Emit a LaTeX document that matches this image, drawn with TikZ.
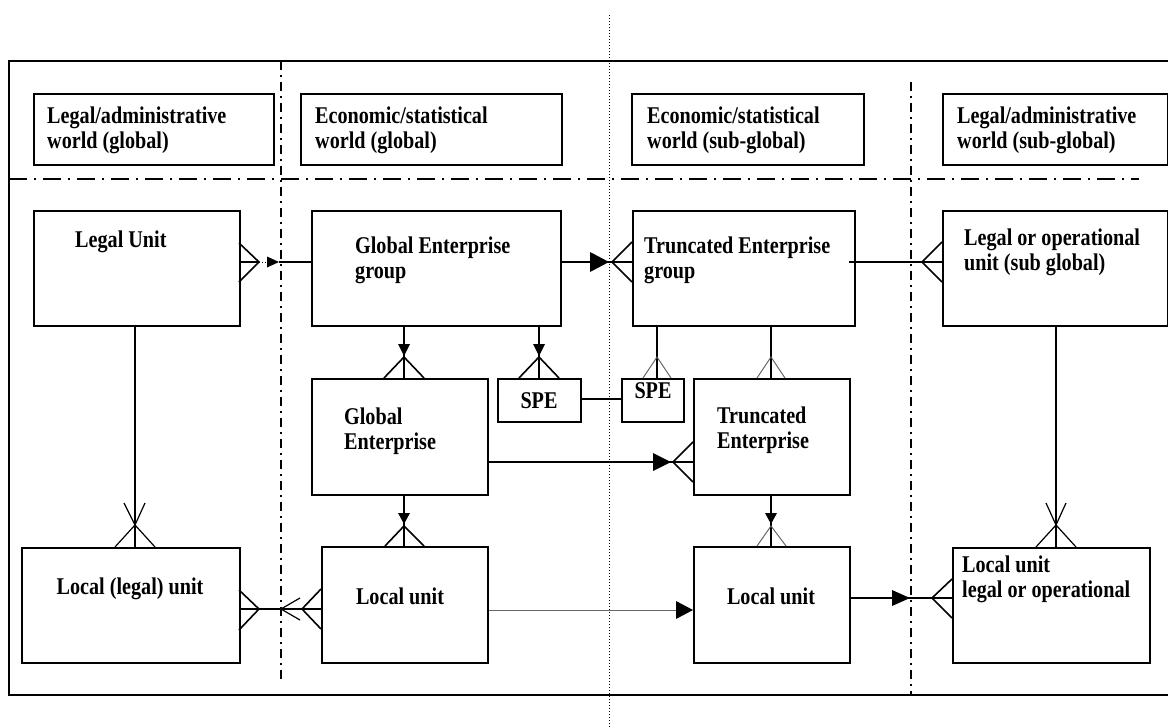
\documentclass[tikz,border=0pt]{standalone}
\usepackage{fontspec}
\setmainfont{Liberation Serif}[FakeStretch=0.84]
\begin{document}
\begin{tikzpicture}[x=1pt,y=-1pt,
  box/.style={draw, line width=1.6pt, inner sep=0pt, anchor=north west},
  txt/.style={inner sep=0pt, anchor=base west, align=left, font=\bfseries\fontsize{24}{25}\selectfont},
  ctxt/.style={inner sep=0pt, anchor=base, font=\bfseries\fontsize{24}{25}\selectfont},
  con/.style={line width=1.6pt, line join=miter},
  thinc/.style={line width=0.9pt, black!65},
  head/.style={fill=black, draw=none},
  hdash/.style={line width=1.3pt, dash pattern=on 18pt off 7pt on 2pt off 7pt},
  vdash/.style={line width=1.3pt, dash pattern=on 9pt off 5pt on 2pt off 5pt},
  dots/.style={line width=1pt, dash pattern=on 1pt off 2pt}]
\useasboundingbox (0,0) rectangle (1168,728);
% frame and dividers
\draw[line width=1.8pt] (9,61) rectangle (1185,695);
\draw[hdash] (9,179) -- (1139,179);
\draw[vdash] (281,61) -- (281,682);
\draw[vdash] (911,82) -- (911,694);
\draw[dots] (609,15) -- (609,728);
% header boxes
\node[box, minimum width=240pt, minimum height=71pt] (H1) at (33,93) {};
\node[box, minimum width=261pt, minimum height=71pt] (H2) at (300,93) {};
\node[box, minimum width=232pt, minimum height=71pt] (H3) at (631,93) {};
\node[box, minimum width=225pt, minimum height=71pt] (H4) at (942,93) {};
% two-line labels: anchor is the baseline of the last line
\node[txt] (tH1) at (47,148) {Legal/administrative\\world (global)};
\node[txt] (tH2) at (315,148) {Economic/statistical\\world (global)};
\node[txt] (tH3) at (647,148) {Economic/statistical\\world (sub-global)};
\node[txt] (tH4) at (957,148) {Legal/administrative\\world (sub-global)};
% main boxes
\node[box, minimum width=206pt, minimum height=115pt] (LU) at (33,210) {};
\node[box, minimum width=249pt, minimum height=115pt] (GEG) at (311,210) {};
\node[box, minimum width=222pt, minimum height=115pt] (TEG) at (632,210) {};
\node[box, minimum width=225pt, minimum height=115pt] (LOU) at (942,210) {};
\node[box, minimum width=176pt, minimum height=116pt] (GE) at (311,378) {};
\node[box, minimum width=83pt, minimum height=43pt] (SPE1) at (497,378) {};
\node[box, minimum width=62pt, minimum height=43pt] (SPE2) at (621,378) {};
\node[box, minimum width=156pt, minimum height=116pt] (TE) at (693,378) {};
\node[box, minimum width=218pt, minimum height=115pt] (LL) at (21,547) {};
\node[box, minimum width=166pt, minimum height=116pt] (LUL) at (321,546) {};
\node[box, minimum width=156pt, minimum height=116pt] (LUR) at (693,546) {};
\node[box, minimum width=197pt, minimum height=115pt] (LLO) at (952,547) {};
% texts
\node[txt] (tLU) at (75,247) {Legal Unit};
\node[txt] (tGEG) at (355,278) {Global Enterprise\\group};
\node[txt] (tTEG) at (644,278) {Truncated Enterprise\\group};
\node[txt] (tLOU) at (964,270) {Legal or operational\\unit (sub global)};
\node[txt] (tGE) at (344,449) {Global\\Enterprise};
\node[ctxt] (tSPE1) at (539,408) {SPE};
\node[ctxt] (tSPE2) at (653,398) {SPE};
\node[txt] (tTE) at (717,448) {Truncated\\Enterprise};
\node[ctxt] (tLL) at (130,594) {Local (legal) unit};
\node[ctxt] (tLUL) at (400,604) {Local unit};
\node[ctxt] (tLUR) at (771,604) {Local unit};
\node[txt] (tLLO) at (962,597) {Local unit\\legal or operational};
% row / column coordinates
\coordinate (r1) at (0,262);
\coordinate (r2) at (0,399);
\coordinate (r3) at (0,462);
\coordinate (r4) at (0,609);
\coordinate (r5) at (0,610);
\coordinate (r6) at (0,598);
\coordinate (c1) at (135,0);
\coordinate (c2) at (404,0);
\coordinate (c3) at (539,0);
\coordinate (c4) at (657,0);
\coordinate (c5) at (771,0);
\coordinate (c6) at (1056,0);
\coordinate (a1) at (279,262);
\coordinate (a2) at (849,262);
\coordinate (a3) at (676,610);
% 1 Legal Unit -- Global Enterprise group
\draw[con] (LU.east |- r1) -- (259,262);
\draw[con] (239,243) -- (259,262) -- (239,282);
\draw[dots] (259,262) -- (267,262);
\draw[con] (a1) -- (GEG.west |- r1);
\fill[head] (267,256.5) -- (a1) -- (267,267.5) -- cycle;
% 2 GEG -> TEG
\draw[con] (GEG.east |- r1) -- (TEG.west |- r1);
\fill[head] (590,252) -- (609,262) -- (590,272) -- cycle;
\draw[con] (TEG.west |- 0,242) -- (612,262) -- (TEG.west |- 0,282);
% 3 TEG -- LOU
\draw[con] (a2) -- (LOU.west |- r1);
\draw[con] (942,242) -- (922,262) -- (942,282);
% 4 GEG -> GE
\draw[con] (GEG.south -| c2) -- (GE.north -| c2);
\fill[head] (398,344) -- (404,356) -- (410,344) -- cycle;
\draw[con] (384,378) -- (404,357) -- (424,378);
% 5 GEG -> SPE1
\draw[con] (GEG.south -| c3) -- (SPE1.north -| c3);
\fill[head] (533,344) -- (539,356) -- (545,344) -- cycle;
\draw[con] (519,378) -- (539,357) -- (559,378);
% 6 SPE1 -- SPE2
\draw[line width=1.3pt] (SPE1.east |- r2) -- (SPE2.west |- r2);
% 7 TEG -- SPE2
\draw[con] (TEG.south -| c4) -- (SPE2.north -| c4);
\draw[thinc] (643,378) -- (657,357) -- (671,378);
% 8 TEG -- TE
\draw[con] (TEG.south -| c5) -- (TE.north -| c5);
\draw[thinc] (757,378) -- (771,357) -- (785,378);
% 9 GE -> TE
\draw[con] (GE.east |- r3) -- (TE.west |- r3);
\fill[head] (653,453) -- (671,462) -- (653,471) -- cycle;
\draw[con] (693,442) -- (673,462) -- (693,482);
% 10 GE -> LUL
\draw[con] (GE.south -| c2) -- (LUL.north -| c2);
\fill[head] (398,513) -- (404,524) -- (410,513) -- cycle;
\draw[con] (385,546) -- (404,526) -- (424,546);
% 11 TE -> LUR
\draw[con] (TE.south -| c5) -- (LUR.north -| c5);
\fill[head] (765,513) -- (771,524) -- (777,513) -- cycle;
\draw[thinc] (757,546) -- (771,526) -- (786,546);
% 12 LU -- LL
\draw[con] (LU.south -| c1) -- (LL.north -| c1);
\draw[line width=1.2pt] (115,547) -- (135,525) -- (145,503);
\draw[line width=1.2pt] (155,547) -- (135,525) -- (124,503);
% 13 LOU -- LLO
\draw[con] (LOU.south -| c6) -- (LLO.north -| c6);
\draw[line width=1.2pt] (1036,547) -- (1056,525) -- (1066,503);
\draw[line width=1.2pt] (1076,547) -- (1056,525) -- (1046,503);
% 14 LUL -> LL
\draw[con] (LL.east |- r4) -- (LUL.west |- r4);
\draw[con] (239,590) -- (259,609) -- (239,630);
\draw[line width=1.2pt] (300,598) -- (281,609) -- (300,620);
\draw[con] (321,589) -- (302,609) -- (321,629);
% 15 LUL -> LUR
\draw[line width=1pt, black!60] (LUL.east |- r5) -- (a3);
\fill[head] (a3 |- 0,601) -- (LUR.west |- r5) -- (a3 |- 0,619) -- cycle;
% 16 LUR -> LLO
\draw[con] (LUR.east |- r6) -- (LLO.west |- r6);
\fill[head] (892,590) -- (910,598) -- (892,606) -- cycle;
\draw[con] (952,579) -- (932,598) -- (952,618);
\end{tikzpicture}
\end{document}
